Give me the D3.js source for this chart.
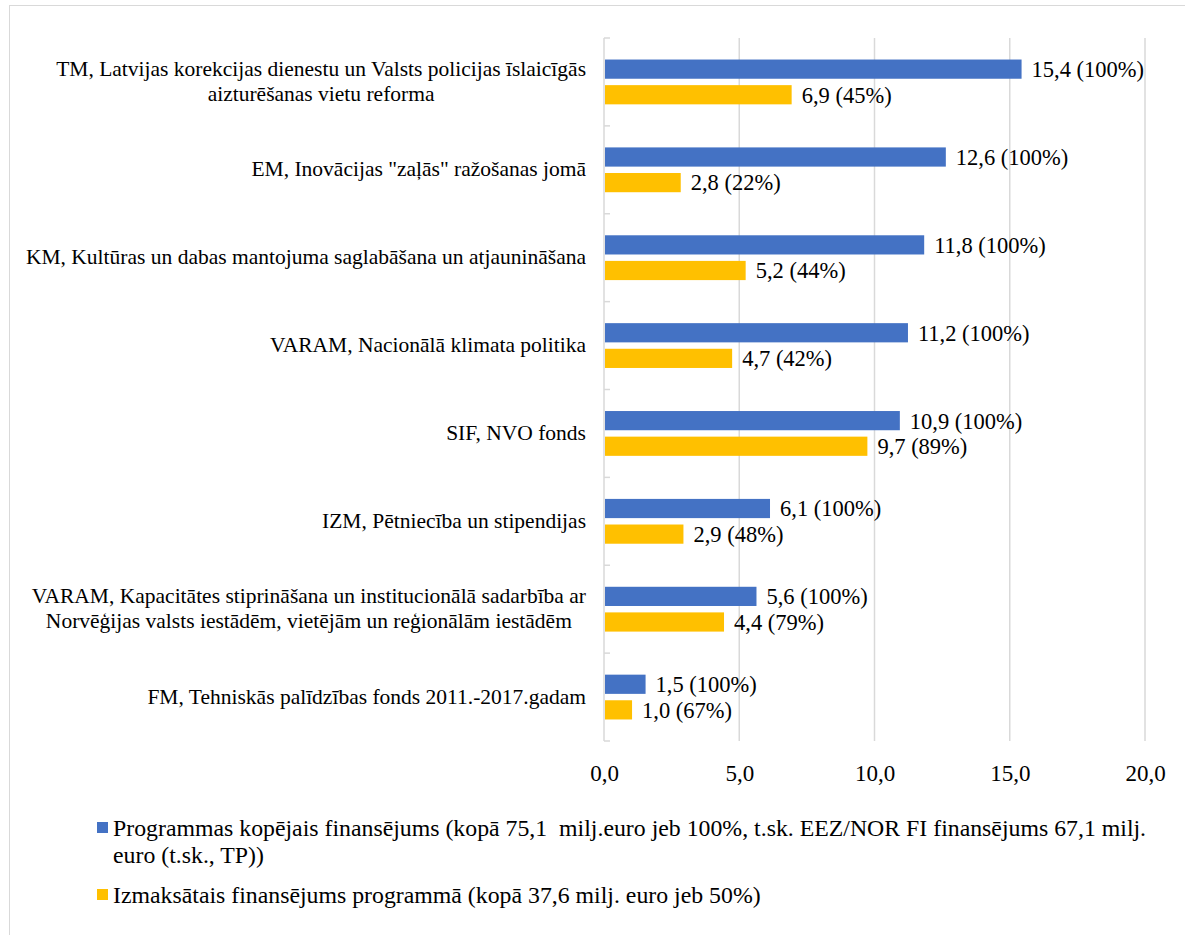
<!DOCTYPE html>
<html>
<head>
<meta charset="utf-8">
<script src="https://cdn.jsdelivr.net/npm/d3@7"></script>
<style>
  body { margin: 0; background: #fff; }
  text { font-family: "Liberation Serif", "Times New Roman", serif; fill: #000; white-space: pre; }
</style>
</head>
<body>
<div id="chart"></div>
<script>
let width = 1185, height = 935;

let categories = [
    ["TM, Latvijas korekcijas dienestu un Valsts policijas īslaicīgās", "aizturēšanas vietu reforma"],
    ["EM, Inovācijas \"zaļās\" ražošanas jomā"],
    ["KM, Kultūras un dabas mantojuma saglabāšana un atjaunināšana"],
    ["VARAM, Nacionālā klimata politika"],
    ["SIF, NVO fonds"],
    ["IZM, Pētniecība un stipendijas"],
    ["VARAM, Kapacitātes stiprināšana un institucionālā sadarbība ar", "Norvēģijas valsts iestādēm, vietējām un reģionālām iestādēm"],
    ["FM, Tehniskās palīdzības fonds 2011.-2017.gadam"]
];
let totalValues = [15.4, 12.6, 11.8, 11.2, 10.9, 6.1, 5.6, 1.5];
let paidValues = [6.9, 2.8, 5.2, 4.7, 9.7, 2.9, 4.4, 1.0];
let xTicks = [0, 5, 10, 15, 20];
let seriesNames = [
    ["Programmas kopējais finansējums (kopā 75,1  milj.euro jeb 100%, t.sk. EEZ/NOR FI finansējums 67,1 milj.", "euro (t.sk., TP))"],
    ["Izmaksātais finansējums programmā (kopā 37,6 milj. euro jeb 50%)"]
];
let colors = ["#4472C4", "#FFC000"];

let locale = d3.formatLocale({decimal: ",", thousands: " ", grouping: [3], currency: ["", "€"]});
let fmt = locale.format(".1f");

let margin = {left: 604, right: 40, top: 38, bottom: 194};

let svg = d3.select('#chart')
    .append('svg')
    .attr('width', width)
    .attr('height', height);

// chart area border (cut by the page)
svg.append('rect')
    .attr('x', 9.5)
    .attr('y', 5.5)
    .attr('width', width + 20)
    .attr('height', height + 20)
    .attr('fill', 'none')
    .attr('stroke', '#d9d9d9');

let x = d3.scaleLinear()
    .domain([0, 20])
    .range([margin.left, width - margin.right]);

let y = d3.scaleBand()
    .domain(d3.range(categories.length))
    .range([margin.top, height - margin.bottom])
    .paddingInner(0.49)
    .paddingOuter(0.245);

let ySub = d3.scaleBand()
    .domain([0, 1])
    .range([0, y.bandwidth()])
    .paddingInner(0.25);

let step = y.step();
let y0 = margin.top, y1 = height - margin.bottom;

// gridlines
svg.append('g')
    .selectAll('line')
    .data(xTicks.slice(1))
    .enter()
    .append('line')
    .attr('x1', d => x(d))
    .attr('x2', d => x(d))
    .attr('y1', y0)
    .attr('y2', y1)
    .attr('stroke', '#d9d9d9')
    .attr('stroke-width', 1.5);

// category axis with inward ticks
svg.append('line')
    .attr('x1', x(0)).attr('x2', x(0))
    .attr('y1', y0).attr('y2', y1)
    .attr('stroke', '#d9d9d9')
    .attr('stroke-width', 1.5);
svg.append('g')
    .selectAll('line')
    .data(d3.range(categories.length + 1))
    .enter()
    .append('line')
    .attr('x1', x(0))
    .attr('x2', x(0) + 6)
    .attr('y1', d => y0 + d * step)
    .attr('y2', d => y0 + d * step)
    .attr('stroke', '#d9d9d9')
    .attr('stroke-width', 1.5);

// x axis labels
let xAxis = d3.axisBottom(x)
    .tickValues(xTicks)
    .tickSize(0)
    .tickPadding(24)
    .tickFormat(d => fmt(d));
svg.append('g')
    .attr('transform', `translate(0,${y1})`)
    .call(xAxis)
    .attr('font-family', '"Liberation Serif", "Times New Roman", serif')
    .attr('font-size', 23)
    .call(g => g.select('.domain').remove())
    .selectAll('text')
    .attr('fill', '#000');

// bars
let series = [totalValues, paidValues];
series.forEach((vals, s) => {
    let g = svg.append('g');
    g.selectAll('rect')
        .data(vals)
        .enter()
        .append('rect')
        .attr('x', x(0) + 1)
        .attr('y', (d, i) => y(i) + ySub(s))
        .attr('width', d => x(d) - x(0))
        .attr('height', ySub.bandwidth())
        .attr('fill', colors[s]);
    g.selectAll('text')
        .data(vals)
        .enter()
        .append('text')
        .attr('x', d => x(d) + 11)
        .attr('y', (d, i) => y(i) + ySub(s) + ySub.bandwidth() / 2)
        .attr('dy', '0.35em')
        .style('font-size', '22.5px')
        .text((d, i) => fmt(d) + ' (' + Math.round(d / totalValues[i] * 100) + '%)');
});

// category labels: block right-aligned, lines centred in block
let labelRight = 586, lineH = 24.5;
categories.forEach((lines, i) => {
    let g = svg.append('g');
    let cy = y(i) + y.bandwidth() / 2;
    let texts = lines.map((l, k) => g.append('text')
        .attr('y', cy + (k - (lines.length - 1) / 2) * lineH)
        .attr('dy', '0.3em')
        .style('font-size', '21.5px')
        .text(l));
    let widths = texts.map(t => t.node().getComputedTextLength());
    let maxW = d3.max(widths);
    texts.forEach(t => {
        t.attr('x', labelRight - maxW / 2).attr('text-anchor', 'middle');
    });
});

// legend
let legendY = [828, 895];
seriesNames.forEach((lines, s) => {
    let g = svg.append('g');
    g.append('rect')
        .attr('x', 97)
        .attr('y', legendY[s] - 6)
        .attr('width', 11)
        .attr('height', 11)
        .attr('fill', colors[s]);
    lines.forEach((l, k) => {
        g.append('text')
            .attr('x', 113)
            .attr('y', legendY[s] + k * 27)
            .attr('dy', '0.35em')
            .style('font-size', '23.8px')
            .text(l);
    });
});
</script>
</body>
</html>
